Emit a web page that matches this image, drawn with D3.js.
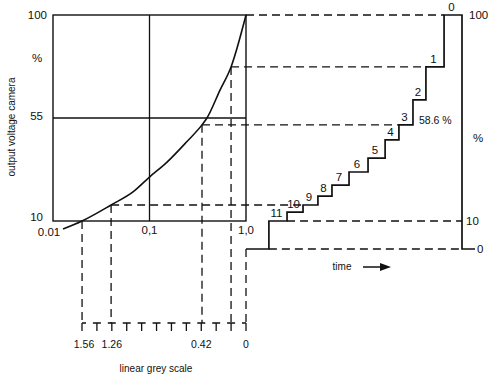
<!DOCTYPE html>
<html><head><meta charset="utf-8">
<script src="https://cdn.jsdelivr.net/npm/d3@7/dist/d3.min.js"></script>
<style>
body{margin:0;background:#fff;}
svg text{font-family:"Liberation Sans",Arial,Helvetica,sans-serif;fill:#111;}
</style></head>
<body><svg id="c" width="500" height="381"></svg>
<script>
// ---- data ----
const curveExposure = [0.0127, 0.02, 0.04, 0.068, 0.1, 0.151, 0.243, 0.35, 0.394, 0.538, 0.70, 1.0];
const curveOutput   = [6.5, 10, 17, 22.8, 29.2, 35.6, 44.6, 52, 55, 67.2, 77.3, 100];
const leftTicks = [10, 55, 100];
const xTicks = [0.01, 0.1, 1];
const xTickLabels = ["0.01", "0,1", "1,0"];
const stepNumbers = [0,1,2,3,4,5,6,7,8,9,10,11];
const stepValues  = [100, 77.3, 62.9, 52, 45.4, 37.5, 31.4, 25.7, 20.9, 17, 13.9, 10];
const stepStart   = [91.7, 83.3, 77.3, 70.8, 64.4, 56.5, 47.7, 39.8, 33.3, 26.4, 19.0, 10.6];
const projSteps    = [11, 9, 3, 1, 0];
const projExposure = [0.02, 0.04, 0.35, 0.70, 1.0];
const greyLabelSteps = [11, 9, 3, 0];
const greyLabels = ["1.56", "1.26", "0.42", "0"];
const rightTicks = [0, 10, 100];
const markedValue = "58.6 %";

// ---- scales ----
const svg = d3.select("#c");
const x = d3.scaleLog().domain([0.01, 1]).range([53, 246]);
const yL = d3.scaleLinear().domain([10, 100]).range([221, 15]);
const yR = d3.scaleLinear().domain([0, 10, 100]).range([249, 221, 15]);
const t = d3.scaleLinear().domain([0, 100]).range([246, 462]);
const g = d3.scaleLinear().domain([0, 11]).range([246, 82]);
const greyTop = 323, greyBot = 331;
const dash = "8,5";
const blk = "#111";

// box + grid
svg.append("rect").attr("x", x(0.01)).attr("y", yL(100))
  .attr("width", x(1) - x(0.01)).attr("height", yL(10) - yL(100))
  .attr("fill", "none").attr("stroke", blk).attr("stroke-width", 1.4);
svg.append("line").attr("x1", x(0.1)).attr("x2", x(0.1)).attr("y1", yL(100)).attr("y2", yL(10))
  .attr("stroke", blk).attr("stroke-width", 1.3);
svg.append("line").attr("x1", x(0.01)).attr("x2", x(1)).attr("y1", yL(55)).attr("y2", yL(55))
  .attr("stroke", blk).attr("stroke-width", 1.3);

// curve
const pts = curveExposure.map((e, i) => [x(e), yL(curveOutput[i])]);
svg.append("path").attr("d", d3.line().curve(d3.curveMonotoneX)(pts))
  .attr("fill", "none").attr("stroke", blk).attr("stroke-width", 1.6);

// left labels
const leftOff = {10: 0, 55: 2, 100: 4};
svg.append("g").selectAll("text").data(leftTicks).join("text")
  .attr("x", d => d === 100 ? 47 : 43).attr("y", d => yL(d) + leftOff[d])
  .attr("text-anchor", "end").attr("font-size", 11.5).text(d => d);
svg.append("text").attr("x", 37).attr("y", 62).attr("text-anchor", "middle").attr("font-size", 11.5).text("%");
svg.append("text").attr("transform", "translate(15,127) rotate(-90)")
  .attr("text-anchor", "middle").attr("font-size", 10).text("output voltage camera");
svg.append("g").selectAll("text").data(xTicks).join("text")
  .attr("x", (d, i) => i === 0 ? x(d) - 4 : x(d))
  .attr("y", (d, i) => i === 0 ? 236 : 234)
  .attr("text-anchor", "middle")
  .attr("font-size", 11.5).text((d, i) => xTickLabels[i]);

// projections: vertical dashed lines from curve to grey scale
projSteps.forEach((s, i) => {
  const px = x(projExposure[i]);
  const level = stepValues[s];
  const yTop = s === 0 ? yR(0) : yL(level);
  svg.append("line").attr("x1", px).attr("x2", px).attr("y1", yTop).attr("y2", greyTop)
    .attr("stroke", blk).attr("stroke-width", 1.3).attr("stroke-dasharray", dash);
  if (s !== 11) {
    svg.append("line").attr("x1", px).attr("x2", t(stepStart[s])).attr("y1", yL(level)).attr("y2", yL(level))
      .attr("stroke", blk).attr("stroke-width", 1.3).attr("stroke-dasharray", dash);
  }
});
// reference dashed lines to the right axis (10 % and 0 %)
svg.append("line").attr("x1", t(stepStart[10])).attr("x2", t(100)).attr("y1", yR(10)).attr("y2", yR(10))
  .attr("stroke", blk).attr("stroke-width", 1.3).attr("stroke-dasharray", dash);
svg.append("line").attr("x1", t(stepStart[11])).attr("x2", t(100)).attr("y1", yR(0)).attr("y2", yR(0))
  .attr("stroke", blk).attr("stroke-width", 1.3).attr("stroke-dasharray", dash);

// staircase
let d = `M${t(0)},${yR(0)} L${t(stepStart[11])},${yR(0)}`;
for (let k = 11; k >= 0; k--) {
  d += ` L${t(stepStart[k])},${yR(stepValues[k])}`;
  const nextX = k > 0 ? t(stepStart[k - 1]) : t(100);
  d += ` L${nextX},${yR(stepValues[k])}`;
}
d += ` L${t(100)},${yR(0)} L${t(100) + 13},${yR(0)}`;
svg.append("path").attr("d", d).attr("fill", "none").attr("stroke", blk)
  .attr("stroke-width", 1.7).attr("stroke-linejoin", "miter");

// step numbers
svg.append("g").selectAll("text").data(stepNumbers).join("text")
  .attr("x", k => {
    const x0 = t(stepStart[k]), x1 = k > 0 ? t(stepStart[k - 1]) : t(100);
    return (x0 + x1) / 2 - 1.5;
  })
  .attr("y", k => yR(stepValues[k]) - 4)
  .attr("text-anchor", "middle").attr("font-size", 11.5).text(k => k);
svg.append("text").attr("x", t(stepStart[2]) + 6).attr("y", yR(stepValues[3]) - 1)
  .attr("font-size", 10.5).text(markedValue);

// right axis labels
svg.append("text").attr("x", 469).attr("y", yR(100) + 4).attr("font-size", 11.5).text(rightTicks[2]);
svg.append("text").attr("x", 466).attr("y", yR(10) + 4).attr("font-size", 11.5).text(rightTicks[1]);
svg.append("text").attr("x", 477).attr("y", yR(0) + 4).attr("font-size", 11.5).text(rightTicks[0]);
svg.append("text").attr("x", 478).attr("y", 142).attr("text-anchor", "middle").attr("font-size", 11.5).text("%");

// time arrow
svg.append("text").attr("x", 342).attr("y", 270).attr("text-anchor", "middle").attr("font-size", 10).text("time");
svg.append("line").attr("x1", 363).attr("x2", 382).attr("y1", 267).attr("y2", 267)
  .attr("stroke", blk).attr("stroke-width", 1.5);
svg.append("path").attr("d", "M380,263 L391,267 L380,271 Z").attr("fill", blk);

// linear grey scale ticks
const greySteps = d3.range(0, 12);
greySteps.forEach(k => {
  const gx = g(k);
  const left = Math.max(g(11), gx - 4), right = Math.min(g(0), gx + 4);
  svg.append("path").attr("d", `M${left},${greyTop} L${right},${greyTop} M${gx},${greyTop} L${gx},${greyBot}`)
    .attr("fill", "none").attr("stroke", blk).attr("stroke-width", 1.3);
});
svg.append("g").selectAll("text").data(greyLabelSteps).join("text")
  .attr("x", (s, i) => g(s) + (i === 0 ? 2 : 0)).attr("y", 348)
  .attr("text-anchor", "middle").attr("font-size", 10.5).text((s, i) => greyLabels[i]);
svg.append("text").attr("x", 156).attr("y", 372).attr("text-anchor", "middle")
  .attr("font-size", 10).text("linear grey scale");
</script></body></html>
